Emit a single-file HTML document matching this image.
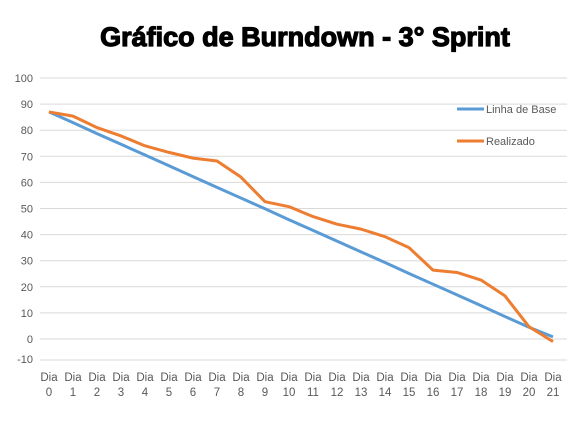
<!DOCTYPE html>
<html><head><meta charset="utf-8"><style>
body{margin:0;background:#fff;width:579px;height:426px;overflow:hidden;font-family:"Liberation Sans",sans-serif}
</style></head><body>
<svg width="579" height="426">
<text x="305" y="46" text-anchor="middle" font-size="27" font-weight="bold" fill="#000" stroke="#000" stroke-width="1.2">Gráfico de Burndown - 3° Sprint</text>
<g id="grid"></g><g id="ylab"></g><g id="xlab"></g><g id="series"></g>
<g>
<line x1="457" y1="109" x2="484" y2="109" stroke="#5B9BD5" stroke-width="3"/>
<text x="486" y="113" font-size="11" fill="#595959">Linha de Base</text>
<line x1="457" y1="141" x2="484" y2="141" stroke="#ED7D31" stroke-width="3"/>
<text x="486" y="145" font-size="11" fill="#595959">Realizado</text>
</g>
</svg>
<script>
const categories=["0","1","2","3","4","5","6","7","8","9","10","11","12","13","14","15","16","17","18","19","20","21"];
const baseline=[87,82.9,78.7,74.6,70.5,66.4,62.2,58.1,54,49.9,45.7,41.6,37.5,33.4,29.3,25.1,21,16.9,12.8,8.6,4.5,0.8];
const realizado=[87,85.4,81,77.8,74,71.5,69.3,68.2,62,52.6,50.7,46.9,44,42.1,39.2,35,26.4,25.5,22.6,16.5,4.7,-1];
const yTicks=[100,90,80,70,60,50,40,30,20,10,0,-10];
const NS="http://www.w3.org/2000/svg";
const y=v=>339-v*2.61;
const x=i=>49+i*24.0;
function mk(t,a,p){const e=document.createElementNS(NS,t);for(const k in a)e.setAttribute(k,a[k]);document.getElementById(p).appendChild(e);return e;}
yTicks.forEach(t=>{
 const gy=t===-10?360:y(t);
 const l=mk('line',{x1:40,x2:567,y1:gy,y2:gy,stroke:'#d9d9d9','stroke-width':1},'grid');
 
 
 const tx=mk('text',{x:33,y:(t===-10?363:y(t)+4),'text-anchor':'end','font-size':11,fill:'#595959'},'ylab');
 tx.textContent=t;
 
 
});
categories.forEach((c,i)=>{
 const t1=mk('text',{x:x(i),y:381,'text-anchor':'middle','font-size':11.5,fill:'#595959'},'xlab');
 t1.textContent='Dia';
 
 
 const t2=mk('text',{x:x(i),y:396,'text-anchor':'middle','font-size':11.5,fill:'#595959'},'xlab');
 t2.textContent=c;
 
 
});
function line(vals,col,name){
 const p=mk('polyline',{points:vals.map((v,i)=>x(i)+','+y(v)).join(' '),fill:'none',stroke:col,'stroke-width':3,'stroke-linejoin':'round'},'series');
 
 
}
line(baseline,'#5B9BD5','series-linha-de-base');
line(realizado,'#ED7D31','series-realizado');
</script>
</body></html>
